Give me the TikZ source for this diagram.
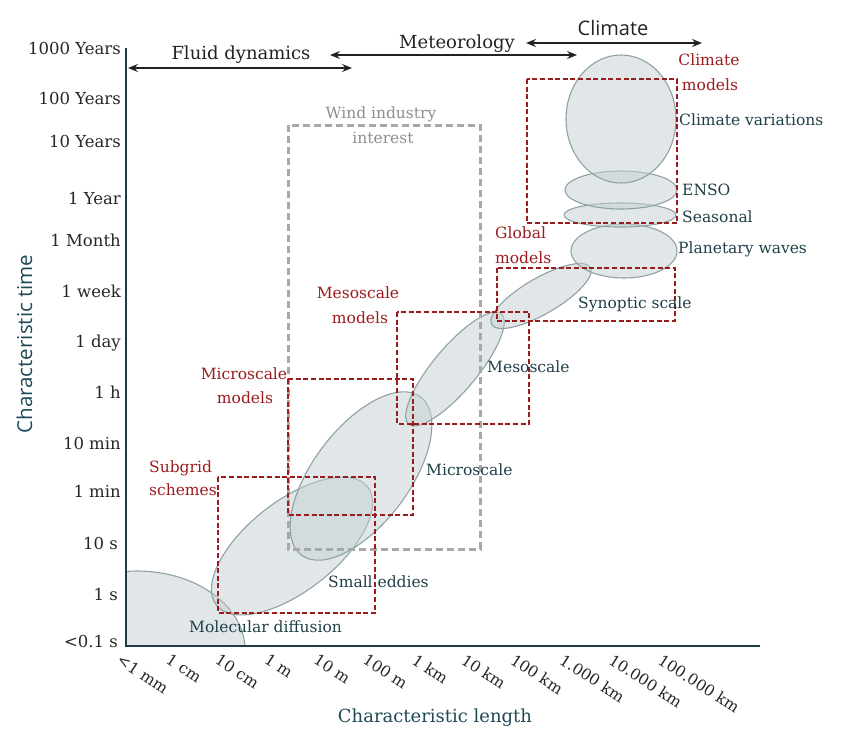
\documentclass[tikz,border=0pt]{standalone}
\usepackage{fontspec}
\setmainfont{DejaVu Serif}
\setsansfont{Open Sans}
\usetikzlibrary{arrows.meta}
\definecolor{axcol}{HTML}{1E3A44}
\definecolor{txtteal}{HTML}{1F4048}
\definecolor{titteal}{HTML}{1F4A55}
\definecolor{redbox}{HTML}{9B1B1F}
\definecolor{graybox}{HTML}{A8A8A8}
\definecolor{graytxt}{HTML}{8E8E8E}
\definecolor{ellfill}{HTML}{C3CFD2}
\definecolor{elldraw}{HTML}{8FA1A4}
\definecolor{arrcol}{HTML}{222222}
\definecolor{tickcol}{HTML}{262626}
\begin{document}
\begin{tikzpicture}[x=1pt,y=-1pt,
  ell/.style={fill=ellfill, fill opacity=0.5, draw=elldraw, line width=1.1pt},
  redrect/.style={draw=redbox, line width=2.7pt, dash pattern=on 5pt off 2.6pt},
  grayrect/.style={draw=graybox, line width=3pt, dash pattern=on 7pt off 4pt},
  spanarrow/.style={draw=arrcol, line width=1.4pt, {Stealth[length=10pt,width=8pt,inset=3.5pt]}-{Stealth[length=10pt,width=8pt,inset=3.5pt]}},
  ytick/.style={anchor=base east, inner sep=0pt, text=tickcol, font=\fontsize{16.5}{19}\selectfont},
  xtick/.style={anchor=north west, inner sep=0pt, rotate=-33, text=tickcol, font=\fontsize{15.5}{18}\selectfont},
  redlbl/.style={inner sep=0pt, text=redbox, font=\fontsize{15.5}{18}\selectfont},
  tlbl/.style={inner sep=0pt, text=txtteal, font=\fontsize{15.5}{18}\selectfont, anchor=base west},
  graylbl/.style={inner sep=0pt, text=graytxt, font=\fontsize{15.5}{18}\selectfont, anchor=base},
  toplbl/.style={inner sep=0pt, text=arrcol, font=\fontsize{18}{21}\selectfont, anchor=base},
  axtitle/.style={inner sep=0pt, text=titteal, anchor=base}
]
\useasboundingbox (0,0) rectangle (850,737);

% ellipses
\begin{scope}
  \clip (126,500) rectangle (400,645);
  \draw[ell] (137,650) ellipse [x radius=108, y radius=79];
\end{scope}
\draw[ell] (292,546) ellipse [x radius=96, y radius=45, rotate=38];
\draw[ell] (361,476) ellipse [x radius=99, y radius=48, rotate=53];
\draw[ell] (455,369) ellipse [x radius=72, y radius=22, rotate=50];
\draw[ell] (541,296) ellipse [x radius=57, y radius=18, rotate=30];
\draw[ell] (624,251) ellipse [x radius=53, y radius=27];
\draw[ell] (620,215) ellipse [x radius=56, y radius=12];
\draw[ell] (621,190) ellipse [x radius=56, y radius=19];
\draw[ell] (621,119) ellipse [x radius=55, y radius=64];

% wind industry box
\draw[grayrect] (288,125) rectangle (480,549);

% red model boxes
\draw[redrect] (527,79) rectangle (677,223);
\draw[redrect] (497,268) rectangle (675,321);
\draw[redrect] (397,312) rectangle (529,424);
\draw[redrect] (288,379) rectangle (413,515);
\draw[redrect] (218,477) rectangle (375,613);

% axes
\coordinate (ytop) at (126,48);
\coordinate (orig) at (126,646);
\coordinate (xend) at (760,646);
\draw[axcol, line width=2.2pt] (ytop) -- (orig) -- (xend);

% top spans
\coordinate (fdL) at (128,68);
\coordinate (fdR) at (352,68);
\coordinate (meL) at (330,55);
\coordinate (meR) at (577,55);
\coordinate (clL) at (526,43);
\coordinate (clR) at (702,43);
\draw[spanarrow] (fdL) -- (fdR);
\draw[spanarrow] (meL) -- (meR);
\draw[spanarrow] (clL) -- (clR);
\node[toplbl] (tfd) at (241,59) {Fluid dynamics};
\node[toplbl] (tme) at (457,48) {Meteorology};
\node[toplbl, font=\sffamily\fontsize{20}{23}\selectfont] (tcl) at (613,35) {Climate};

% y ticks
\node[ytick] (y1) at (121,54) {1000 Years};
\node[ytick] (y2) at (121,104) {100 Years};
\node[ytick] (y3) at (121,147) {10 Years};
\node[ytick] (y4) at (121,204) {1 Year};
\node[ytick] (y5) at (121,246) {1 Month};
\node[ytick] (y6) at (121,297) {1 week};
\node[ytick] (y7) at (121,347) {1 day};
\node[ytick] (y8) at (121,398) {1 h};
\node[ytick] (y9) at (121,449) {10 min};
\node[ytick] (y10) at (121,497) {1 min};
\node[ytick] (y11) at (118,549) {10 s};
\node[ytick] (y12) at (118,600) {1 s};
\node[ytick] (y13) at (118,647) {<0.1 s};

% x ticks
\node[xtick] (x0) at (122,653) {<1 mm};
\node[xtick] (x1) at (171.2,653) {1 cm};
\node[xtick] (x2) at (220.4,653) {10 cm};
\node[xtick] (x3) at (269.6,653) {1 m};
\node[xtick] (x4) at (318.8,653) {10 m};
\node[xtick] (x5) at (368,653) {100 m};
\node[xtick] (x6) at (417.2,653) {1 km};
\node[xtick] (x7) at (466.4,653) {10 km};
\node[xtick] (x8) at (515.6,653) {100 km};
\node[xtick] (x9) at (564.8,653) {1.000 km};
\node[xtick] (x10) at (614,653) {10.000 km};
\node[xtick] (x11) at (663.2,653) {100.000 km};

% axis titles
\node[axtitle, font=\fontsize{18}{21}\selectfont] (xt) at (435,722) {Characteristic length};
\node[axtitle, font=\sffamily\fontsize{20.5}{24}\selectfont, rotate=90] (yt) at (32,344) {Characteristic time};

% red labels
\node[redlbl, anchor=base] (cm1) at (709,65) {Climate};
\node[redlbl, anchor=base] (cm2) at (710,90) {models};
\node[redlbl, anchor=base west] (gm1) at (495,238) {Global};
\node[redlbl, anchor=base west] (gm2) at (495,263) {models};
\node[redlbl, anchor=base] (mm1) at (358,298) {Mesoscale};
\node[redlbl, anchor=base] (mm2) at (360,323) {models};
\node[redlbl, anchor=base] (mi1) at (244,379) {Microscale};
\node[redlbl, anchor=base] (mi2) at (245,403) {models};
\node[redlbl, anchor=base west] (sg1) at (149,472) {Subgrid};
\node[redlbl, anchor=base west] (sg2) at (149,495) {schemes};

% phenomenon labels
\node[tlbl] (lcv) at (679,125) {Climate variations};
\node[tlbl] (lenso) at (682,195) {ENSO};
\node[tlbl] (lsea) at (682,222) {Seasonal};
\node[tlbl] (lpw) at (678,253) {Planetary waves};
\node[tlbl] (lsyn) at (578,308) {Synoptic scale};
\node[tlbl] (lmeso) at (487,372) {Mesoscale};
\node[tlbl] (lmicro) at (426,475) {Microscale};
\node[tlbl] (lsmall) at (328,587) {Small eddies};
\node[tlbl] (lmol) at (189,632) {Molecular diffusion};

% wind industry label
\node[graylbl] (wi1) at (381,118) {Wind industry};
\node[graylbl] (wi2) at (383,143) {interest};
\end{tikzpicture}
\end{document}
